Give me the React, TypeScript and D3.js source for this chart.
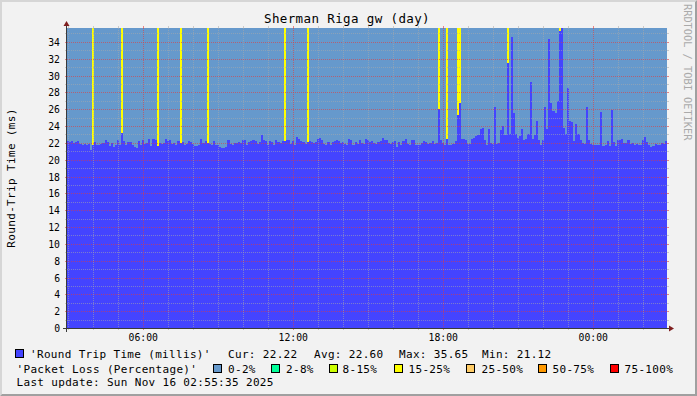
import React from "react";
import * as d3 from "d3";

// ---------- data ----------
const startTime = new Date(2025, 10, 15, 2, 57, 0);
const stepMinutes = 5;

// Round trip time (ms), one value per 5-minute slot, 24 hours
const rttMillis: number[] = [
  // 02:57 - 08:57
  22.2, 22.1, 22.2, 22.0, 22.1, 22.2, 21.9, 21.8, 21.9, 21.8, 21.9, 21.12,
  21.7, 22.1, 21.8, 21.8, 21.9, 22.0, 22.3, 22.1, 21.6, 22.0, 21.5, 21.8,
  22.4, 21.7, 23.2, 22.2, 21.7, 22.1, 22.1, 21.8, 21.5, 21.4, 22.2, 21.8,
  22.3, 21.9, 22.0, 22.5, 21.6, 22.5, 22.3, 21.6, 22.0, 21.9, 22.0, 22.5,
  22.2, 22.3, 21.9, 22.0, 21.8, 22.2, 22.0, 22.1, 21.8, 21.9, 22.2, 22.1,
  21.9, 21.6, 21.6, 21.8, 22.5, 22.0, 22.2, 22.0, 21.9, 21.8, 22.2, 21.7,
  // 08:57 - 14:57
  21.7, 21.5, 21.4, 21.4, 21.5, 22.4, 21.9, 21.7, 22.0, 22.0, 22.1, 22.0,
  22.4, 22.4, 21.8, 22.1, 22.2, 22.3, 22.2, 21.9, 22.1, 22.9, 22.3, 22.2,
  21.8, 22.2, 22.1, 21.8, 22.3, 22.1, 22.0, 22.2, 22.2, 22.4, 22.3, 21.9,
  22.2, 21.8, 22.7, 22.5, 22.2, 22.1, 21.9, 22.1, 22.2, 22.1, 22.0, 22.1,
  22.5, 22.6, 22.4, 21.9, 21.8, 22.1, 21.7, 22.1, 22.2, 22.3, 22.2, 22.0,
  22.1, 21.9, 21.8, 22.5, 22.4, 21.8, 22.1, 21.9, 22.4, 22.0, 21.9, 22.5,
  // 14:57 - 18:57
  22.4, 22.1, 22.2, 22.0, 21.9, 22.1, 22.2, 22.6, 22.3, 22.4, 22.0, 21.9,
  22.1, 22.2, 21.5, 22.1, 21.7, 22.2, 22.5, 21.9, 21.8, 22.4, 22.3, 21.8,
  21.7, 21.8, 22.0, 22.2, 22.1, 21.9, 22.0, 22.2, 21.9, 22.0, 26.0, 22.4,
  22.0, 21.8, 22.5, 21.8, 21.8, 21.9, 22.2, 25.3, 26.7, 22.5, 22.5, 22.4,
  // 18:57 - 22:57
  21.9, 21.9, 22.5, 22.6, 22.8, 22.9, 23.6, 23.8, 22.3, 21.8, 23.6, 22.0,
  21.9, 26.3, 21.9, 22.0, 23.5, 24.0, 22.9, 31.45, 23.1, 34.6, 25.5, 23.0,
  22.6, 22.8, 23.7, 22.3, 22.5, 23.0, 29.2, 22.5, 22.9, 24.6, 22.4, 21.8,
  22.4, 26.3, 23.6, 34.4, 26.7, 25.8, 25.5, 27.0, 35.3, 35.65, 23.8, 23.0,
  // 22:57 - 02:57
  28.5, 24.55, 24.45, 22.2, 24.2, 23.0, 22.4, 22.0, 21.9, 26.3, 22.3, 21.9,
  21.7, 21.8, 21.8, 21.8, 25.7, 21.6, 21.8, 22.2, 21.6, 25.9, 22.1, 21.6,
  22.3, 22.3, 22.5, 22.0, 22.0, 22.3, 21.9, 22.0, 21.8, 21.9, 21.7, 21.8,
  22.4, 22.7, 22.1, 21.8, 21.5, 21.6, 21.9, 21.7, 21.8, 22.0, 21.9, 22.22,
];

// Slots with packet loss (slot index) and the loss percentage
const lossSlots: number[] = [12, 26, 43, 54, 67, 104, 115, 178, 182, 187, 188, 211, 236];
const lossPercent: number[] = [20, 20, 20, 20, 20, 20, 20, 20, 20, 20, 20, 20, 20];

const lossBandLabels: string[] = ["0-2%", "2-8%", "8-15%", "15-25%", "25-50%", "50-75%", "75-100%"];
const lossBandUpper: number[] = [2, 8, 15, 25, 50, 75, 100];

const statNames: string[] = ["Cur", "Avg", "Max", "Min"];
const statValues: number[] = [22.22, 22.6, 35.65, 21.12];

const titleText = "Sherman Riga gw (day)";
const yAxisTitle = "Round-Trip Time (ms)";
const rttLegend = "'Round Trip Time (millis)'";
const lossLegend = "'Packet Loss (Percentage)'";
const lastUpdate = "Last update: Sun Nov 16 02:55:35 2025";
const watermark = "RRDTOOL / TOBI OETIKER";

// ---------- styles ----------
const W = 697;
const H = 396;
const X0 = 67;
const X1 = 667;
const Y0 = 328;
const Y1 = 28;
const FONT = "'DejaVu Sans Mono', monospace";
const RTT_COLOR = "#4444FF";
const BAND_COLORS = ["#6699CC", "#00FF99", "#CCFF00", "#FFFF00", "#FFCC66", "#FF9900", "#FF0000"];
const GRID = "rgba(170,170,170,0.55)";
const MGRID = "rgba(225,60,60,0.6)";
const AXIS = "#3a3a3a";
const ARROW = "#7f1f1f";

const statX = [228, 314, 399, 482];
const bandBoxX = [213.5, 271.5, 329.5, 394.5, 466.5, 538.5, 610.5];
const bandTextX = [228, 286, 342.5, 408.5, 481.5, 552.5, 624.5];

export default function App() {
  const endTime = d3.timeMinute.offset(startTime, 24 * 60);
  const x = d3.scaleTime().domain([startTime, endTime]).range([X0, X1]);
  const yMax = d3.max(rttMillis) as number;
  const y = d3.scaleLinear().domain([0, yMax]).range([Y0, Y1]);
  const slotTime = (i: number) => d3.timeMinute.offset(startTime, i * stepMinutes);

  const lossBySlot = new Map<number, number>();
  lossSlots.forEach((s, k) => lossBySlot.set(s, lossPercent[k]));
  const bandIndex = (p: number) => {
    const k = lossBandUpper.findIndex((u) => p < u);
    return k < 0 ? lossBandUpper.length - 1 : k;
  };

  const slots = rttMillis.map((v, i) => {
    const xa = Math.round(x(slotTime(i)));
    const xb = Math.round(x(slotTime(i + 1)));
    const yt = Math.round(y(v));
    const loss = lossBySlot.get(i) ?? 0;
    return { i, xa, w: xb - xa, yt, color: BAND_COLORS[bandIndex(loss)] };
  });

  const hGrid = d3.range(1, Math.floor(yMax) + 1);
  const yLabels = d3.range(0, Math.floor(yMax) + 1, 2);
  const hours = d3.timeHour.range(startTime, endTime);
  const fmt = d3.timeFormat("%H:%M");

  return (
    <>
      <style>{`body{margin:0;}`}</style>
      <svg width={W} height={H} xmlns="http://www.w3.org/2000/svg" style={{ display: "block" }} fontFamily={FONT}>
        <rect x={0} y={0} width={W} height={H} fill="#F2F2F2" />
        {/* bevel */}
        <polygon points={`0,${H} 2,${H - 2} 2,2 ${W - 2},2 ${W},0 0,0`} fill="#D6D6D6" />
        <polygon points={`2,${H - 2} ${W - 2},${H - 2} ${W - 2},2 ${W},0 ${W},${H} 0,${H}`} fill="#A0A0A0" />

        {/* title */}
        <text x={347} y={23} textAnchor="middle" fontSize={12.5} letterSpacing={0.38} fill="#000">
          {titleText}
        </text>

        {/* loss (background stack) and RTT */}
        <g shapeRendering="crispEdges">
          {slots.map((s) => (
            <rect key={"l" + s.i} x={s.xa} y={Y1} width={s.w} height={s.yt - Y1} fill={s.color} />
          ))}
          {slots.map((s) => (
            <rect key={"r" + s.i} x={s.xa} y={s.yt} width={s.w} height={Y0 - s.yt} fill={RTT_COLOR} />
          ))}
        </g>

        {/* horizontal grid */}
        <g shapeRendering="crispEdges">
          {hGrid.map((v) => {
            const yy = Math.round(y(v)) + 0.5;
            const c = v % 2 === 0 ? MGRID : GRID;
            return (
              <g key={"h" + v}>
                <line x1={X0 - 2} x2={X0} y1={yy} y2={yy} stroke={c} />
                <line x1={X1} x2={X1 + 2} y1={yy} y2={yy} stroke={c} />
                <line x1={X0} x2={X1} y1={yy} y2={yy} stroke={c} strokeDasharray="1 1" />
              </g>
            );
          })}
          {hours.map((h) => {
            const xx = Math.round(x(h)) + 0.5;
            const c = h.getHours() % 6 === 0 ? MGRID : GRID;
            return (
              <g key={"v" + h.getTime()}>
                <line x1={xx} x2={xx} y1={Y1 - 2} y2={Y1} stroke={c} />
                <line x1={xx} x2={xx} y1={Y0} y2={Y0 + 2} stroke={c} />
                <line x1={xx} x2={xx} y1={Y1} y2={Y0} stroke={c} strokeDasharray="1 1" />
              </g>
            );
          })}
        </g>

        {/* y labels */}
        {yLabels.map((v) => (
          <text key={"yl" + v} x={60} y={Math.round(y(v)) + 4} textAnchor="end" fontSize={9.75} fill="#000">
            {v}
          </text>
        ))}
        {/* x labels */}
        {hours
          .filter((h) => h.getHours() % 6 === 0)
          .map((h) => (
            <text key={"xl" + h.getTime()} x={x(h)} y={341} textAnchor="middle" fontSize={9.75} fill="#000">
              {fmt(h)}
            </text>
          ))}

        {/* axes */}
        <g shapeRendering="crispEdges">
          <line x1={X0 - 4} x2={X1 + 4} y1={Y0 + 0.5} y2={Y0 + 0.5} stroke={AXIS} />
          <line x1={X0 - 0.5} x2={X0 - 0.5} y1={Y0 + 4} y2={Y1 - 4} stroke={AXIS} />
        </g>
        <polygon points={`${X1 + 2},${Y0 - 2.5} ${X1 + 2},${Y0 + 3.5} ${X1 + 7},${Y0 + 0.5}`} fill={ARROW} />
        <polygon points={`${X0 - 3.5},${Y1 - 2} ${X0 + 2.5},${Y1 - 2} ${X0 - 0.5},${Y1 - 7}`} fill={ARROW} />

        {/* y axis title */}
        <text
          transform={`translate(15,${(Y0 + Y1) / 2}) rotate(-90)`}
          textAnchor="middle"
          fontSize={11}
          letterSpacing={0.35}
          fill="#000"
        >
          {yAxisTitle}
        </text>

        {/* watermark */}
        <text transform={`translate(684,4) rotate(90)`} fontSize={10.3} fill="#AAAAAA">
          {watermark}
        </text>

        {/* legend */}
        <g fontSize={11} letterSpacing={0.33} fill="#000">
          <rect x={15.5} y={349.5} width={8} height={8} fill={RTT_COLOR} stroke="#000" />
          <text x={30} y={357.5}>{rttLegend}</text>
          {statNames.map((n, k) => (
            <text key={n} x={statX[k]} y={357.5}>
              {`${n}: ${statValues[k].toFixed(2)}`}
            </text>
          ))}
          <text x={16.5} y={372.5}>{lossLegend}</text>
          {lossBandLabels.map((lab, k) => (
            <g key={lab}>
              <rect x={bandBoxX[k]} y={364.5} width={8} height={8} fill={BAND_COLORS[k]} stroke="#000" />
              <text x={bandTextX[k]} y={372.5}>{lab}</text>
            </g>
          ))}
          <text x={16.5} y={386}>{lastUpdate}</text>
        </g>
      </svg>
    </>
  );
}
